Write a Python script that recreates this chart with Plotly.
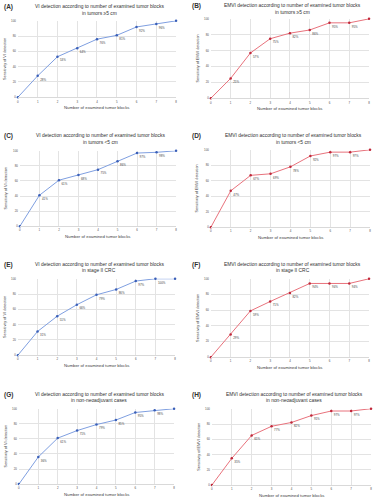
import plotly.graph_objects as go

blocks = [0, 1, 2, 3, 4, 5, 6, 7, 8]
vi_ge5 = [0, 28, 53, 64, 76, 81, 92, 96, 100]
emvi_ge5 = [0, 25, 57, 75, 82, 86, 95, 95, 100]
vi_lt5 = [0, 41, 61, 68, 75, 86, 97, 98, 100]
emvi_lt5 = [0, 47, 67, 69, 78, 92, 97, 97, 100]
vi_st2 = [0, 31, 51, 66, 79, 86, 97, 100, 100]
emvi_st2 = [0, 29, 59, 71, 82, 94, 94, 94, 100]
vi_nonneo = [0, 36, 61, 71, 79, 85, 95, 98, 100]
emvi_nonneo = [0, 35, 65, 77, 82, 91, 97, 97, 100]

letters = ["(A)", "(B)", "(C)", "(D)", "(E)", "(F)", "(G)", "(H)"]
kinds = ["VI", "EMVI"] * 4
subtitles = ["in tumors \u22655 cm", "in tumors \u22655 cm", "in tumors <5 cm", "in tumors <5 cm",
             "in stage II CRC", "in stage II CRC", "in non-neoadjuvant cases", "in non-neoadjuvant cases"]
series = [vi_ge5, emvi_ge5, vi_lt5, emvi_lt5, vi_st2, emvi_st2, vi_nonneo, emvi_nonneo]

W, H = 375, 500
# plot areas in pixels: x0, x1, ytop, ybottom
boxes = [(17, 176, 19, 96), (211, 370, 17, 97),
         (19, 176, 150, 226), (211, 371, 149, 227),
         (17, 175, 279, 356), (211, 370, 279, 358),
         (18, 174, 410, 486), (212, 372, 410, 487)]
title_y = [(5, 12), (4, 11), (135, 142), (135, 142), (265, 271), (265, 271), (396, 402), (396, 402)]

BLUE_LINE, BLUE_MK = "#7f9fe0", "#3a5fb8"
RED_LINE, RED_MK = "#e8727c", "#c0283a"

fig = go.Figure()
layout = dict(width=W, height=H, margin=dict(l=0, r=0, t=0, b=0),
              paper_bgcolor="white", plot_bgcolor="white", showlegend=False,
              font=dict(family="Liberation Sans", color="#404040"))
annotations = []

def px(x):
    return x / W

def py(y):
    return 1 - y / H

for i in range(8):
    n = i + 1
    xa = "x" if n == 1 else f"x{n}"
    ya = "y" if n == 1 else f"y{n}"
    x0, x1, yt, yb = boxes[i]
    vals = series[i]
    is_vi = kinds[i] == "VI"
    lc, mc = (BLUE_LINE, BLUE_MK) if is_vi else (RED_LINE, RED_MK)
    labels = [""] + [f"{v}%" for v in vals[1:8]] + [""]
    fig.add_trace(go.Scatter(
        x=blocks, y=vals, mode="lines+markers+text", xaxis=xa, yaxis=ya,
        line=dict(color=lc, width=1), marker=dict(color=mc, size=2.5),
        text=labels, textposition="bottom right",
        textfont=dict(size=2.9, color="#404040"), cliponaxis=False))
    axx = dict(domain=[px(x0), px(x1)], range=[0, 8], anchor=ya, tickmode="array",
               tickvals=blocks, showgrid=True, gridcolor="#e3e3e3", gridwidth=0.6,
               zeroline=False, showline=True, linecolor="#d9d9d9", linewidth=0.6,
               tickfont=dict(size=2.9, color="#505050"), ticks="", ticklabelstandoff=1)
    axy = dict(domain=[py(yb), py(yt)], range=[0, 100], anchor=xa, tickmode="array",
               tickvals=[0, 20, 40, 60, 80, 100], ticksuffix="%", showgrid=True,
               gridcolor="#e3e3e3", gridwidth=0.6, zeroline=False, showline=False,
               tickfont=dict(size=2.9, color="#505050"), ticks="", ticklabelstandoff=1)
    layout["xaxis" if n == 1 else f"xaxis{n}"] = axx
    layout["yaxis" if n == 1 else f"yaxis{n}"] = axy

    cx = (x0 + x1) / 2 + 3
    left = 1 if i % 2 == 0 else 190
    annotations.append(dict(text=f"<b>{letters[i]}</b>", x=px(left), y=py(title_y[i][0]),
                            xref="paper", yref="paper", xanchor="left", yanchor="middle",
                            showarrow=False, font=dict(size=6.5, color="#303030")))
    annotations.append(dict(text=f"{kinds[i]} detection according to number of examined tumor blocks",
                            x=px(cx), y=py(title_y[i][0]), xref="paper", yref="paper",
                            xanchor="center", yanchor="middle", showarrow=False,
                            font=dict(size=4.9, color="#303030")))
    annotations.append(dict(text=subtitles[i], x=px(cx), y=py(title_y[i][1]),
                            xref="paper", yref="paper", xanchor="center", yanchor="middle",
                            showarrow=False, font=dict(size=4.9, color="#303030")))
    annotations.append(dict(text="Number of examined tumor blocks", x=px((x0 + x1) / 2),
                            y=py(yb + 10), xref="paper", yref="paper", xanchor="center",
                            yanchor="middle", showarrow=False, font=dict(size=4.3, color="#404040")))
    annotations.append(dict(text=f"Sensitivity of {kinds[i]} detection", x=px(x0 - 13),
                            y=py((yt + yb) / 2), xref="paper", yref="paper", xanchor="center",
                            yanchor="middle", textangle=-90, showarrow=False,
                            font=dict(size=3.8, color="#404040")))

layout["annotations"] = annotations
fig.update_layout(**layout)
fig.write_html("out.html", config={"displayModeBar": False},
               post_script="document.body.style.margin='0';")
